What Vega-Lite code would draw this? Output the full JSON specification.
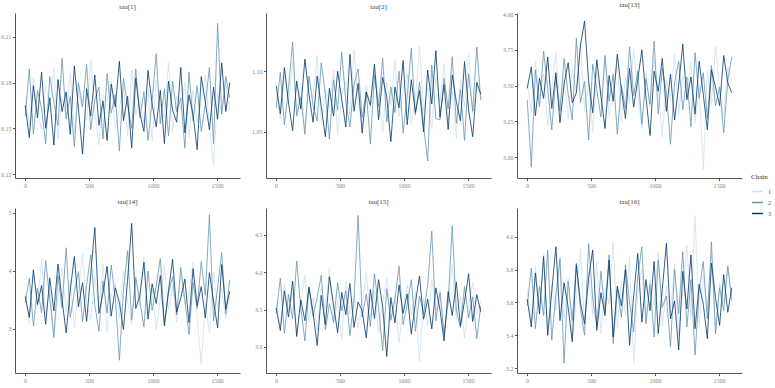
{"$schema":"https://vega.github.io/schema/vega-lite/v6.json","background":"white","padding":{"left":0,"top":1,"right":5,"bottom":0},"bounds":"flush","columns":3,"spacing":{"row":30,"column":26},
"config":{"font":"Liberation Serif","view":{"stroke":null},"axis":{"grid":false,"domainColor":"#555","domainWidth":1,"tickColor":"#555","tickSize":2.5,"labelColor":"#888","labelFontSize":6,"labelPadding":1.5,"title":null},"title":{"fontSize":7,"fontWeight":"normal","color":"#444","offset":3},"legend":{"titleFontSize":7,"titleFontWeight":"normal","titleColor":"#333","labelFontSize":6,"labelColor":"#555","symbolType":"stroke","symbolStrokeWidth":1.5,"symbolSize":120,"rowPadding":1}},
"datasets":{"d":[
{"p":1,"c":1,"i":1,"v":0.171},{"p":1,"c":1,"i":33,"v":0.152},{"p":1,"c":1,"i":65,"v":0.183},{"p":1,"c":1,"i":97,"v":0.160},{"p":1,"c":1,"i":129,"v":0.149},{"p":1,"c":1,"i":161,"v":0.178},{"p":1,"c":1,"i":193,"v":0.165},{"p":1,"c":1,"i":225,"v":0.190},{"p":1,"c":1,"i":257,"v":0.143},{"p":1,"c":1,"i":289,"v":0.170},{"p":1,"c":1,"i":321,"v":0.158},{"p":1,"c":1,"i":353,"v":0.186},{"p":1,"c":1,"i":385,"v":0.147},{"p":1,"c":1,"i":417,"v":0.174},{"p":1,"c":1,"i":449,"v":0.162},{"p":1,"c":1,"i":481,"v":0.155},{"p":1,"c":1,"i":513,"v":0.195},{"p":1,"c":1,"i":545,"v":0.161},{"p":1,"c":1,"i":577,"v":0.139},{"p":1,"c":1,"i":609,"v":0.172},{"p":1,"c":1,"i":641,"v":0.168},{"p":1,"c":1,"i":673,"v":0.181},{"p":1,"c":1,"i":705,"v":0.150},{"p":1,"c":1,"i":737,"v":0.164},{"p":1,"c":1,"i":769,"v":0.177},{"p":1,"c":1,"i":801,"v":0.145},{"p":1,"c":1,"i":833,"v":0.188},{"p":1,"c":1,"i":865,"v":0.159},{"p":1,"c":1,"i":897,"v":0.169},{"p":1,"c":1,"i":929,"v":0.153},{"p":1,"c":1,"i":961,"v":0.176},{"p":1,"c":1,"i":993,"v":0.141},{"p":1,"c":1,"i":1025,"v":0.182},{"p":1,"c":1,"i":1057,"v":0.166},{"p":1,"c":1,"i":1089,"v":0.157},{"p":1,"c":1,"i":1121,"v":0.193},{"p":1,"c":1,"i":1153,"v":0.148},{"p":1,"c":1,"i":1185,"v":0.171},{"p":1,"c":1,"i":1217,"v":0.163},{"p":1,"c":1,"i":1249,"v":0.180},{"p":1,"c":1,"i":1281,"v":0.144},{"p":1,"c":1,"i":1313,"v":0.175},{"p":1,"c":1,"i":1345,"v":0.154},{"p":1,"c":1,"i":1377,"v":0.167},{"p":1,"c":1,"i":1409,"v":0.185},{"p":1,"c":1,"i":1441,"v":0.151},{"p":1,"c":1,"i":1473,"v":0.126},{"p":1,"c":1,"i":1505,"v":0.173},{"p":1,"c":1,"i":1537,"v":0.160},{"p":1,"c":1,"i":1569,"v":0.179},{"p":1,"c":1,"i":1600,"v":0.162},
{"p":1,"c":2,"i":1,"v":0.158},{"p":1,"c":2,"i":33,"v":0.189},{"p":1,"c":2,"i":65,"v":0.146},{"p":1,"c":2,"i":97,"v":0.175},{"p":1,"c":2,"i":129,"v":0.163},{"p":1,"c":2,"i":161,"v":0.140},{"p":1,"c":2,"i":193,"v":0.184},{"p":1,"c":2,"i":225,"v":0.167},{"p":1,"c":2,"i":257,"v":0.152},{"p":1,"c":2,"i":289,"v":0.196},{"p":1,"c":2,"i":321,"v":0.156},{"p":1,"c":2,"i":353,"v":0.171},{"p":1,"c":2,"i":385,"v":0.138},{"p":1,"c":2,"i":417,"v":0.180},{"p":1,"c":2,"i":449,"v":0.164},{"p":1,"c":2,"i":481,"v":0.192},{"p":1,"c":2,"i":513,"v":0.149},{"p":1,"c":2,"i":545,"v":0.169},{"p":1,"c":2,"i":577,"v":0.177},{"p":1,"c":2,"i":609,"v":0.143},{"p":1,"c":2,"i":641,"v":0.186},{"p":1,"c":2,"i":673,"v":0.160},{"p":1,"c":2,"i":705,"v":0.172},{"p":1,"c":2,"i":737,"v":0.135},{"p":1,"c":2,"i":769,"v":0.183},{"p":1,"c":2,"i":801,"v":0.165},{"p":1,"c":2,"i":833,"v":0.150},{"p":1,"c":2,"i":865,"v":0.189},{"p":1,"c":2,"i":897,"v":0.157},{"p":1,"c":2,"i":929,"v":0.174},{"p":1,"c":2,"i":961,"v":0.142},{"p":1,"c":2,"i":993,"v":0.168},{"p":1,"c":2,"i":1025,"v":0.199},{"p":1,"c":2,"i":1057,"v":0.153},{"p":1,"c":2,"i":1089,"v":0.176},{"p":1,"c":2,"i":1121,"v":0.145},{"p":1,"c":2,"i":1153,"v":0.181},{"p":1,"c":2,"i":1185,"v":0.161},{"p":1,"c":2,"i":1217,"v":0.170},{"p":1,"c":2,"i":1249,"v":0.137},{"p":1,"c":2,"i":1281,"v":0.187},{"p":1,"c":2,"i":1313,"v":0.155},{"p":1,"c":2,"i":1345,"v":0.178},{"p":1,"c":2,"i":1377,"v":0.148},{"p":1,"c":2,"i":1409,"v":0.166},{"p":1,"c":2,"i":1441,"v":0.190},{"p":1,"c":2,"i":1473,"v":0.140},{"p":1,"c":2,"i":1505,"v":0.219},{"p":1,"c":2,"i":1537,"v":0.159},{"p":1,"c":2,"i":1569,"v":0.184},{"p":1,"c":2,"i":1600,"v":0.170},
{"p":1,"c":3,"i":1,"v":0.165},{"p":1,"c":3,"i":33,"v":0.144},{"p":1,"c":3,"i":65,"v":0.178},{"p":1,"c":3,"i":97,"v":0.157},{"p":1,"c":3,"i":129,"v":0.187},{"p":1,"c":3,"i":161,"v":0.150},{"p":1,"c":3,"i":193,"v":0.170},{"p":1,"c":3,"i":225,"v":0.139},{"p":1,"c":3,"i":257,"v":0.182},{"p":1,"c":3,"i":289,"v":0.161},{"p":1,"c":3,"i":321,"v":0.174},{"p":1,"c":3,"i":353,"v":0.146},{"p":1,"c":3,"i":385,"v":0.191},{"p":1,"c":3,"i":417,"v":0.163},{"p":1,"c":3,"i":449,"v":0.133},{"p":1,"c":3,"i":481,"v":0.176},{"p":1,"c":3,"i":513,"v":0.158},{"p":1,"c":3,"i":545,"v":0.185},{"p":1,"c":3,"i":577,"v":0.152},{"p":1,"c":3,"i":609,"v":0.168},{"p":1,"c":3,"i":641,"v":0.142},{"p":1,"c":3,"i":673,"v":0.179},{"p":1,"c":3,"i":705,"v":0.164},{"p":1,"c":3,"i":737,"v":0.194},{"p":1,"c":3,"i":769,"v":0.155},{"p":1,"c":3,"i":801,"v":0.171},{"p":1,"c":3,"i":833,"v":0.137},{"p":1,"c":3,"i":865,"v":0.183},{"p":1,"c":3,"i":897,"v":0.160},{"p":1,"c":3,"i":929,"v":0.148},{"p":1,"c":3,"i":961,"v":0.188},{"p":1,"c":3,"i":993,"v":0.166},{"p":1,"c":3,"i":1025,"v":0.151},{"p":1,"c":3,"i":1057,"v":0.175},{"p":1,"c":3,"i":1089,"v":0.140},{"p":1,"c":3,"i":1121,"v":0.181},{"p":1,"c":3,"i":1153,"v":0.162},{"p":1,"c":3,"i":1185,"v":0.154},{"p":1,"c":3,"i":1217,"v":0.190},{"p":1,"c":3,"i":1249,"v":0.147},{"p":1,"c":3,"i":1281,"v":0.172},{"p":1,"c":3,"i":1313,"v":0.159},{"p":1,"c":3,"i":1345,"v":0.136},{"p":1,"c":3,"i":1377,"v":0.184},{"p":1,"c":3,"i":1409,"v":0.167},{"p":1,"c":3,"i":1441,"v":0.149},{"p":1,"c":3,"i":1473,"v":0.177},{"p":1,"c":3,"i":1505,"v":0.156},{"p":1,"c":3,"i":1537,"v":0.193},{"p":1,"c":3,"i":1569,"v":0.161},{"p":1,"c":3,"i":1600,"v":0.180},
{"p":2,"c":1,"i":1,"v":1.082},{"p":2,"c":1,"i":33,"v":1.061},{"p":2,"c":1,"i":65,"v":1.097},{"p":2,"c":1,"i":97,"v":1.073},{"p":2,"c":1,"i":129,"v":1.108},{"p":2,"c":1,"i":161,"v":1.066},{"p":2,"c":1,"i":193,"v":1.089},{"p":2,"c":1,"i":225,"v":1.052},{"p":2,"c":1,"i":257,"v":1.094},{"p":2,"c":1,"i":289,"v":1.077},{"p":2,"c":1,"i":321,"v":1.113},{"p":2,"c":1,"i":353,"v":1.058},{"p":2,"c":1,"i":385,"v":1.085},{"p":2,"c":1,"i":417,"v":1.070},{"p":2,"c":1,"i":449,"v":1.101},{"p":2,"c":1,"i":481,"v":1.047},{"p":2,"c":1,"i":513,"v":1.080},{"p":2,"c":1,"i":545,"v":1.092},{"p":2,"c":1,"i":577,"v":1.064},{"p":2,"c":1,"i":609,"v":1.118},{"p":2,"c":1,"i":641,"v":1.075},{"p":2,"c":1,"i":673,"v":1.055},{"p":2,"c":1,"i":705,"v":1.088},{"p":2,"c":1,"i":737,"v":1.069},{"p":2,"c":1,"i":769,"v":1.104},{"p":2,"c":1,"i":801,"v":1.079},{"p":2,"c":1,"i":833,"v":1.050},{"p":2,"c":1,"i":865,"v":1.091},{"p":2,"c":1,"i":897,"v":1.072},{"p":2,"c":1,"i":929,"v":1.110},{"p":2,"c":1,"i":961,"v":1.063},{"p":2,"c":1,"i":993,"v":1.084},{"p":2,"c":1,"i":1025,"v":1.098},{"p":2,"c":1,"i":1057,"v":1.057},{"p":2,"c":1,"i":1089,"v":1.076},{"p":2,"c":1,"i":1121,"v":1.121},{"p":2,"c":1,"i":1153,"v":1.067},{"p":2,"c":1,"i":1185,"v":1.087},{"p":2,"c":1,"i":1217,"v":1.053},{"p":2,"c":1,"i":1249,"v":1.095},{"p":2,"c":1,"i":1281,"v":1.074},{"p":2,"c":1,"i":1313,"v":1.106},{"p":2,"c":1,"i":1345,"v":1.060},{"p":2,"c":1,"i":1377,"v":1.083},{"p":2,"c":1,"i":1409,"v":1.045},{"p":2,"c":1,"i":1441,"v":1.093},{"p":2,"c":1,"i":1473,"v":1.071},{"p":2,"c":1,"i":1505,"v":1.115},{"p":2,"c":1,"i":1537,"v":1.065},{"p":2,"c":1,"i":1569,"v":1.090},{"p":2,"c":1,"i":1600,"v":1.078},
{"p":2,"c":2,"i":1,"v":1.070},{"p":2,"c":2,"i":33,"v":1.099},{"p":2,"c":2,"i":65,"v":1.056},{"p":2,"c":2,"i":97,"v":1.086},{"p":2,"c":2,"i":129,"v":1.124},{"p":2,"c":2,"i":161,"v":1.063},{"p":2,"c":2,"i":193,"v":1.079},{"p":2,"c":2,"i":225,"v":1.048},{"p":2,"c":2,"i":257,"v":1.096},{"p":2,"c":2,"i":289,"v":1.072},{"p":2,"c":2,"i":321,"v":1.059},{"p":2,"c":2,"i":353,"v":1.107},{"p":2,"c":2,"i":385,"v":1.081},{"p":2,"c":2,"i":417,"v":1.044},{"p":2,"c":2,"i":449,"v":1.093},{"p":2,"c":2,"i":481,"v":1.068},{"p":2,"c":2,"i":513,"v":1.116},{"p":2,"c":2,"i":545,"v":1.075},{"p":2,"c":2,"i":577,"v":1.054},{"p":2,"c":2,"i":609,"v":1.089},{"p":2,"c":2,"i":641,"v":1.102},{"p":2,"c":2,"i":673,"v":1.062},{"p":2,"c":2,"i":705,"v":1.083},{"p":2,"c":2,"i":737,"v":1.040},{"p":2,"c":2,"i":769,"v":1.097},{"p":2,"c":2,"i":801,"v":1.071},{"p":2,"c":2,"i":833,"v":1.111},{"p":2,"c":2,"i":865,"v":1.058},{"p":2,"c":2,"i":897,"v":1.087},{"p":2,"c":2,"i":929,"v":1.066},{"p":2,"c":2,"i":961,"v":1.100},{"p":2,"c":2,"i":993,"v":1.049},{"p":2,"c":2,"i":1025,"v":1.080},{"p":2,"c":2,"i":1057,"v":1.119},{"p":2,"c":2,"i":1089,"v":1.064},{"p":2,"c":2,"i":1121,"v":1.091},{"p":2,"c":2,"i":1153,"v":1.055},{"p":2,"c":2,"i":1185,"v":1.026},{"p":2,"c":2,"i":1217,"v":1.105},{"p":2,"c":2,"i":1249,"v":1.061},{"p":2,"c":2,"i":1281,"v":1.060},{"p":2,"c":2,"i":1313,"v":1.094},{"p":2,"c":2,"i":1345,"v":1.069},{"p":2,"c":2,"i":1377,"v":1.112},{"p":2,"c":2,"i":1409,"v":1.057},{"p":2,"c":2,"i":1441,"v":1.085},{"p":2,"c":2,"i":1473,"v":1.043},{"p":2,"c":2,"i":1505,"v":1.098},{"p":2,"c":2,"i":1537,"v":1.067},{"p":2,"c":2,"i":1569,"v":1.120},{"p":2,"c":2,"i":1600,"v":1.076},
{"p":2,"c":3,"i":1,"v":1.088},{"p":2,"c":3,"i":33,"v":1.065},{"p":2,"c":3,"i":65,"v":1.103},{"p":2,"c":3,"i":97,"v":1.074},{"p":2,"c":3,"i":129,"v":1.051},{"p":2,"c":3,"i":161,"v":1.092},{"p":2,"c":3,"i":193,"v":1.069},{"p":2,"c":3,"i":225,"v":1.110},{"p":2,"c":3,"i":257,"v":1.081},{"p":2,"c":3,"i":289,"v":1.058},{"p":2,"c":3,"i":321,"v":1.096},{"p":2,"c":3,"i":353,"v":1.071},{"p":2,"c":3,"i":385,"v":1.046},{"p":2,"c":3,"i":417,"v":1.086},{"p":2,"c":3,"i":449,"v":1.063},{"p":2,"c":3,"i":481,"v":1.100},{"p":2,"c":3,"i":513,"v":1.077},{"p":2,"c":3,"i":545,"v":1.054},{"p":2,"c":3,"i":577,"v":1.114},{"p":2,"c":3,"i":609,"v":1.067},{"p":2,"c":3,"i":641,"v":1.090},{"p":2,"c":3,"i":673,"v":1.049},{"p":2,"c":3,"i":705,"v":1.083},{"p":2,"c":3,"i":737,"v":1.072},{"p":2,"c":3,"i":769,"v":1.106},{"p":2,"c":3,"i":801,"v":1.060},{"p":2,"c":3,"i":833,"v":1.095},{"p":2,"c":3,"i":865,"v":1.079},{"p":2,"c":3,"i":897,"v":1.042},{"p":2,"c":3,"i":929,"v":1.087},{"p":2,"c":3,"i":961,"v":1.070},{"p":2,"c":3,"i":993,"v":1.109},{"p":2,"c":3,"i":1025,"v":1.056},{"p":2,"c":3,"i":1057,"v":1.093},{"p":2,"c":3,"i":1089,"v":1.066},{"p":2,"c":3,"i":1121,"v":1.084},{"p":2,"c":3,"i":1153,"v":1.050},{"p":2,"c":3,"i":1185,"v":1.101},{"p":2,"c":3,"i":1217,"v":1.073},{"p":2,"c":3,"i":1249,"v":1.117},{"p":2,"c":3,"i":1281,"v":1.062},{"p":2,"c":3,"i":1313,"v":1.089},{"p":2,"c":3,"i":1345,"v":1.052},{"p":2,"c":3,"i":1377,"v":1.097},{"p":2,"c":3,"i":1409,"v":1.075},{"p":2,"c":3,"i":1441,"v":1.059},{"p":2,"c":3,"i":1473,"v":1.108},{"p":2,"c":3,"i":1505,"v":1.068},{"p":2,"c":3,"i":1537,"v":1.046},{"p":2,"c":3,"i":1569,"v":1.091},{"p":2,"c":3,"i":1600,"v":1.081},
{"p":13,"c":1,"i":1,"v":3.52},{"p":13,"c":1,"i":33,"v":3.31},{"p":13,"c":1,"i":65,"v":3.67},{"p":13,"c":1,"i":97,"v":3.40},{"p":13,"c":1,"i":129,"v":3.58},{"p":13,"c":1,"i":161,"v":3.22},{"p":13,"c":1,"i":193,"v":3.49},{"p":13,"c":1,"i":225,"v":3.73},{"p":13,"c":1,"i":257,"v":3.36},{"p":13,"c":1,"i":289,"v":3.55},{"p":13,"c":1,"i":321,"v":3.27},{"p":13,"c":1,"i":353,"v":3.62},{"p":13,"c":1,"i":385,"v":3.44},{"p":13,"c":1,"i":417,"v":3.80},{"p":13,"c":1,"i":449,"v":3.33},{"p":13,"c":1,"i":481,"v":3.51},{"p":13,"c":1,"i":513,"v":3.18},{"p":13,"c":1,"i":545,"v":3.60},{"p":13,"c":1,"i":577,"v":3.42},{"p":13,"c":1,"i":609,"v":3.70},{"p":13,"c":1,"i":641,"v":3.29},{"p":13,"c":1,"i":673,"v":3.47},{"p":13,"c":1,"i":705,"v":3.64},{"p":13,"c":1,"i":737,"v":3.25},{"p":13,"c":1,"i":769,"v":3.56},{"p":13,"c":1,"i":801,"v":3.38},{"p":13,"c":1,"i":833,"v":3.76},{"p":13,"c":1,"i":865,"v":3.45},{"p":13,"c":1,"i":897,"v":3.20},{"p":13,"c":1,"i":929,"v":3.59},{"p":13,"c":1,"i":961,"v":3.35},{"p":13,"c":1,"i":993,"v":3.68},{"p":13,"c":1,"i":1025,"v":3.48},{"p":13,"c":1,"i":1057,"v":3.14},{"p":13,"c":1,"i":1089,"v":3.54},{"p":13,"c":1,"i":1121,"v":3.41},{"p":13,"c":1,"i":1153,"v":3.72},{"p":13,"c":1,"i":1185,"v":3.30},{"p":13,"c":1,"i":1217,"v":3.57},{"p":13,"c":1,"i":1249,"v":3.43},{"p":13,"c":1,"i":1281,"v":3.66},{"p":13,"c":1,"i":1313,"v":3.24},{"p":13,"c":1,"i":1345,"v":3.50},{"p":13,"c":1,"i":1377,"v":2.91},{"p":13,"c":1,"i":1409,"v":3.61},{"p":13,"c":1,"i":1441,"v":3.37},{"p":13,"c":1,"i":1473,"v":3.78},{"p":13,"c":1,"i":1505,"v":3.46},{"p":13,"c":1,"i":1537,"v":3.28},{"p":13,"c":1,"i":1569,"v":3.63},{"p":13,"c":1,"i":1600,"v":3.53},
{"p":13,"c":2,"i":1,"v":3.40},{"p":13,"c":2,"i":33,"v":2.93},{"p":13,"c":2,"i":65,"v":3.61},{"p":13,"c":2,"i":97,"v":3.35},{"p":13,"c":2,"i":129,"v":3.74},{"p":13,"c":2,"i":161,"v":3.48},{"p":13,"c":2,"i":193,"v":3.19},{"p":13,"c":2,"i":225,"v":3.57},{"p":13,"c":2,"i":257,"v":3.32},{"p":13,"c":2,"i":289,"v":3.69},{"p":13,"c":2,"i":321,"v":3.44},{"p":13,"c":2,"i":353,"v":3.26},{"p":13,"c":2,"i":385,"v":3.83},{"p":13,"c":2,"i":417,"v":3.38},{"p":13,"c":2,"i":449,"v":3.53},{"p":13,"c":2,"i":481,"v":3.12},{"p":13,"c":2,"i":513,"v":3.65},{"p":13,"c":2,"i":545,"v":3.47},{"p":13,"c":2,"i":577,"v":3.28},{"p":13,"c":2,"i":609,"v":3.71},{"p":13,"c":2,"i":641,"v":3.39},{"p":13,"c":2,"i":673,"v":3.58},{"p":13,"c":2,"i":705,"v":3.16},{"p":13,"c":2,"i":737,"v":3.50},{"p":13,"c":2,"i":769,"v":3.34},{"p":13,"c":2,"i":801,"v":3.77},{"p":13,"c":2,"i":833,"v":3.43},{"p":13,"c":2,"i":865,"v":3.60},{"p":13,"c":2,"i":897,"v":3.23},{"p":13,"c":2,"i":929,"v":3.55},{"p":13,"c":2,"i":961,"v":3.37},{"p":13,"c":2,"i":993,"v":3.81},{"p":13,"c":2,"i":1025,"v":3.30},{"p":13,"c":2,"i":1057,"v":3.62},{"p":13,"c":2,"i":1089,"v":3.45},{"p":13,"c":2,"i":1121,"v":3.09},{"p":13,"c":2,"i":1153,"v":3.52},{"p":13,"c":2,"i":1185,"v":3.67},{"p":13,"c":2,"i":1217,"v":3.33},{"p":13,"c":2,"i":1249,"v":3.56},{"p":13,"c":2,"i":1281,"v":3.21},{"p":13,"c":2,"i":1313,"v":3.73},{"p":13,"c":2,"i":1345,"v":3.41},{"p":13,"c":2,"i":1377,"v":3.59},{"p":13,"c":2,"i":1409,"v":3.27},{"p":13,"c":2,"i":1441,"v":3.64},{"p":13,"c":2,"i":1473,"v":3.36},{"p":13,"c":2,"i":1505,"v":3.49},{"p":13,"c":2,"i":1537,"v":3.17},{"p":13,"c":2,"i":1569,"v":3.54},{"p":13,"c":2,"i":1600,"v":3.70},
{"p":13,"c":3,"i":1,"v":3.48},{"p":13,"c":3,"i":33,"v":3.63},{"p":13,"c":3,"i":65,"v":3.29},{"p":13,"c":3,"i":97,"v":3.55},{"p":13,"c":3,"i":129,"v":3.41},{"p":13,"c":3,"i":161,"v":3.70},{"p":13,"c":3,"i":193,"v":3.34},{"p":13,"c":3,"i":225,"v":3.59},{"p":13,"c":3,"i":257,"v":3.24},{"p":13,"c":3,"i":289,"v":3.51},{"p":13,"c":3,"i":321,"v":3.66},{"p":13,"c":3,"i":353,"v":3.38},{"p":13,"c":3,"i":385,"v":3.45},{"p":13,"c":3,"i":417,"v":3.78},{"p":13,"c":3,"i":449,"v":3.95},{"p":13,"c":3,"i":481,"v":3.53},{"p":13,"c":3,"i":513,"v":3.31},{"p":13,"c":3,"i":545,"v":3.68},{"p":13,"c":3,"i":577,"v":3.43},{"p":13,"c":3,"i":609,"v":3.20},{"p":13,"c":3,"i":641,"v":3.57},{"p":13,"c":3,"i":673,"v":3.39},{"p":13,"c":3,"i":705,"v":3.72},{"p":13,"c":3,"i":737,"v":3.47},{"p":13,"c":3,"i":769,"v":3.27},{"p":13,"c":3,"i":801,"v":3.62},{"p":13,"c":3,"i":833,"v":3.35},{"p":13,"c":3,"i":865,"v":3.54},{"p":13,"c":3,"i":897,"v":3.75},{"p":13,"c":3,"i":929,"v":3.42},{"p":13,"c":3,"i":961,"v":3.15},{"p":13,"c":3,"i":993,"v":3.60},{"p":13,"c":3,"i":1025,"v":3.46},{"p":13,"c":3,"i":1057,"v":3.69},{"p":13,"c":3,"i":1089,"v":3.32},{"p":13,"c":3,"i":1121,"v":3.58},{"p":13,"c":3,"i":1153,"v":3.26},{"p":13,"c":3,"i":1185,"v":3.50},{"p":13,"c":3,"i":1217,"v":3.79},{"p":13,"c":3,"i":1249,"v":3.40},{"p":13,"c":3,"i":1281,"v":3.56},{"p":13,"c":3,"i":1313,"v":3.30},{"p":13,"c":3,"i":1345,"v":3.67},{"p":13,"c":3,"i":1377,"v":3.44},{"p":13,"c":3,"i":1409,"v":3.19},{"p":13,"c":3,"i":1441,"v":3.61},{"p":13,"c":3,"i":1473,"v":3.49},{"p":13,"c":3,"i":1505,"v":3.36},{"p":13,"c":3,"i":1537,"v":3.71},{"p":13,"c":3,"i":1569,"v":3.52},{"p":13,"c":3,"i":1600,"v":3.45},
{"p":14,"c":1,"i":1,"v":3.62},{"p":14,"c":1,"i":33,"v":3.10},{"p":14,"c":1,"i":65,"v":3.95},{"p":14,"c":1,"i":97,"v":3.38},{"p":14,"c":1,"i":129,"v":4.21},{"p":14,"c":1,"i":161,"v":3.25},{"p":14,"c":1,"i":193,"v":3.71},{"p":14,"c":1,"i":225,"v":2.88},{"p":14,"c":1,"i":257,"v":3.55},{"p":14,"c":1,"i":289,"v":4.05},{"p":14,"c":1,"i":321,"v":3.30},{"p":14,"c":1,"i":353,"v":3.84},{"p":14,"c":1,"i":385,"v":3.02},{"p":14,"c":1,"i":417,"v":3.66},{"p":14,"c":1,"i":449,"v":4.30},{"p":14,"c":1,"i":481,"v":3.44},{"p":14,"c":1,"i":513,"v":3.15},{"p":14,"c":1,"i":545,"v":3.90},{"p":14,"c":1,"i":577,"v":3.35},{"p":14,"c":1,"i":609,"v":4.12},{"p":14,"c":1,"i":641,"v":2.95},{"p":14,"c":1,"i":673,"v":3.58},{"p":14,"c":1,"i":705,"v":3.78},{"p":14,"c":1,"i":737,"v":3.20},{"p":14,"c":1,"i":769,"v":4.02},{"p":14,"c":1,"i":801,"v":3.48},{"p":14,"c":1,"i":833,"v":3.07},{"p":14,"c":1,"i":865,"v":3.86},{"p":14,"c":1,"i":897,"v":3.40},{"p":14,"c":1,"i":929,"v":4.25},{"p":14,"c":1,"i":961,"v":3.28},{"p":14,"c":1,"i":993,"v":3.69},{"p":14,"c":1,"i":1025,"v":2.98},{"p":14,"c":1,"i":1057,"v":3.52},{"p":14,"c":1,"i":1089,"v":4.08},{"p":14,"c":1,"i":1121,"v":3.33},{"p":14,"c":1,"i":1153,"v":3.75},{"p":14,"c":1,"i":1185,"v":3.12},{"p":14,"c":1,"i":1217,"v":3.93},{"p":14,"c":1,"i":1249,"v":3.42},{"p":14,"c":1,"i":1281,"v":3.60},{"p":14,"c":1,"i":1313,"v":4.15},{"p":14,"c":1,"i":1345,"v":3.23},{"p":14,"c":1,"i":1377,"v":2.40},{"p":14,"c":1,"i":1409,"v":3.45},{"p":14,"c":1,"i":1441,"v":2.92},{"p":14,"c":1,"i":1473,"v":3.98},{"p":14,"c":1,"i":1505,"v":3.36},{"p":14,"c":1,"i":1537,"v":3.70},{"p":14,"c":1,"i":1569,"v":3.18},{"p":14,"c":1,"i":1600,"v":3.57},
{"p":14,"c":2,"i":1,"v":3.45},{"p":14,"c":2,"i":33,"v":3.88},{"p":14,"c":2,"i":65,"v":3.05},{"p":14,"c":2,"i":97,"v":3.70},{"p":14,"c":2,"i":129,"v":3.28},{"p":14,"c":2,"i":161,"v":4.18},{"p":14,"c":2,"i":193,"v":3.52},{"p":14,"c":2,"i":225,"v":2.85},{"p":14,"c":2,"i":257,"v":3.92},{"p":14,"c":2,"i":289,"v":3.37},{"p":14,"c":2,"i":321,"v":4.40},{"p":14,"c":2,"i":353,"v":3.20},{"p":14,"c":2,"i":385,"v":3.64},{"p":14,"c":2,"i":417,"v":3.99},{"p":14,"c":2,"i":449,"v":3.12},{"p":14,"c":2,"i":481,"v":3.76},{"p":14,"c":2,"i":513,"v":4.28},{"p":14,"c":2,"i":545,"v":3.41},{"p":14,"c":2,"i":577,"v":2.96},{"p":14,"c":2,"i":609,"v":3.83},{"p":14,"c":2,"i":641,"v":3.27},{"p":14,"c":2,"i":673,"v":4.10},{"p":14,"c":2,"i":705,"v":3.55},{"p":14,"c":2,"i":737,"v":2.46},{"p":14,"c":2,"i":769,"v":3.68},{"p":14,"c":2,"i":801,"v":4.35},{"p":14,"c":2,"i":833,"v":3.16},{"p":14,"c":2,"i":865,"v":3.89},{"p":14,"c":2,"i":897,"v":3.48},{"p":14,"c":2,"i":929,"v":3.03},{"p":14,"c":2,"i":961,"v":4.00},{"p":14,"c":2,"i":993,"v":3.32},{"p":14,"c":2,"i":1025,"v":3.74},{"p":14,"c":2,"i":1057,"v":4.22},{"p":14,"c":2,"i":1089,"v":3.09},{"p":14,"c":2,"i":1121,"v":3.61},{"p":14,"c":2,"i":1153,"v":3.90},{"p":14,"c":2,"i":1185,"v":3.24},{"p":14,"c":2,"i":1217,"v":4.06},{"p":14,"c":2,"i":1249,"v":3.50},{"p":14,"c":2,"i":1281,"v":2.90},{"p":14,"c":2,"i":1313,"v":3.80},{"p":14,"c":2,"i":1345,"v":3.35},{"p":14,"c":2,"i":1377,"v":4.16},{"p":14,"c":2,"i":1409,"v":3.58},{"p":14,"c":2,"i":1441,"v":4.97},{"p":14,"c":2,"i":1473,"v":3.14},{"p":14,"c":2,"i":1505,"v":3.72},{"p":14,"c":2,"i":1537,"v":4.32},{"p":14,"c":2,"i":1569,"v":3.26},{"p":14,"c":2,"i":1600,"v":3.85},
{"p":14,"c":3,"i":1,"v":3.56},{"p":14,"c":3,"i":33,"v":3.20},{"p":14,"c":3,"i":65,"v":4.02},{"p":14,"c":3,"i":97,"v":3.42},{"p":14,"c":3,"i":129,"v":3.75},{"p":14,"c":3,"i":161,"v":3.08},{"p":14,"c":3,"i":193,"v":3.88},{"p":14,"c":3,"i":225,"v":3.31},{"p":14,"c":3,"i":257,"v":4.12},{"p":14,"c":3,"i":289,"v":3.50},{"p":14,"c":3,"i":321,"v":2.93},{"p":14,"c":3,"i":353,"v":3.67},{"p":14,"c":3,"i":385,"v":4.25},{"p":14,"c":3,"i":417,"v":3.38},{"p":14,"c":3,"i":449,"v":3.80},{"p":14,"c":3,"i":481,"v":3.13},{"p":14,"c":3,"i":513,"v":3.95},{"p":14,"c":3,"i":545,"v":4.75},{"p":14,"c":3,"i":577,"v":3.27},{"p":14,"c":3,"i":609,"v":3.62},{"p":14,"c":3,"i":641,"v":4.08},{"p":14,"c":3,"i":673,"v":3.22},{"p":14,"c":3,"i":705,"v":3.71},{"p":14,"c":3,"i":737,"v":3.46},{"p":14,"c":3,"i":769,"v":2.99},{"p":14,"c":3,"i":801,"v":3.84},{"p":14,"c":3,"i":833,"v":4.82},{"p":14,"c":3,"i":865,"v":3.35},{"p":14,"c":3,"i":897,"v":3.58},{"p":14,"c":3,"i":929,"v":4.15},{"p":14,"c":3,"i":961,"v":3.17},{"p":14,"c":3,"i":993,"v":3.78},{"p":14,"c":3,"i":1025,"v":3.44},{"p":14,"c":3,"i":1057,"v":3.92},{"p":14,"c":3,"i":1089,"v":3.05},{"p":14,"c":3,"i":1121,"v":3.66},{"p":14,"c":3,"i":1153,"v":4.20},{"p":14,"c":3,"i":1185,"v":3.29},{"p":14,"c":3,"i":1217,"v":3.53},{"p":14,"c":3,"i":1249,"v":3.86},{"p":14,"c":3,"i":1281,"v":3.11},{"p":14,"c":3,"i":1313,"v":4.04},{"p":14,"c":3,"i":1345,"v":3.40},{"p":14,"c":3,"i":1377,"v":3.73},{"p":14,"c":3,"i":1409,"v":3.19},{"p":14,"c":3,"i":1441,"v":3.97},{"p":14,"c":3,"i":1473,"v":3.48},{"p":14,"c":3,"i":1505,"v":3.02},{"p":14,"c":3,"i":1537,"v":4.11},{"p":14,"c":3,"i":1569,"v":3.34},{"p":14,"c":3,"i":1600,"v":3.65},
{"p":15,"c":1,"i":1,"v":3.60},{"p":15,"c":1,"i":33,"v":3.28},{"p":15,"c":1,"i":65,"v":3.85},{"p":15,"c":1,"i":97,"v":3.47},{"p":15,"c":1,"i":129,"v":3.72},{"p":15,"c":1,"i":161,"v":3.15},{"p":15,"c":1,"i":193,"v":3.58},{"p":15,"c":1,"i":225,"v":3.96},{"p":15,"c":1,"i":257,"v":3.36},{"p":15,"c":1,"i":289,"v":3.66},{"p":15,"c":1,"i":321,"v":3.22},{"p":15,"c":1,"i":353,"v":3.79},{"p":15,"c":1,"i":385,"v":3.50},{"p":15,"c":1,"i":417,"v":4.05},{"p":15,"c":1,"i":449,"v":3.31},{"p":15,"c":1,"i":481,"v":3.63},{"p":15,"c":1,"i":513,"v":3.10},{"p":15,"c":1,"i":545,"v":3.88},{"p":15,"c":1,"i":577,"v":3.44},{"p":15,"c":1,"i":609,"v":3.70},{"p":15,"c":1,"i":641,"v":3.25},{"p":15,"c":1,"i":673,"v":3.56},{"p":15,"c":1,"i":705,"v":4.00},{"p":15,"c":1,"i":737,"v":3.39},{"p":15,"c":1,"i":769,"v":3.75},{"p":15,"c":1,"i":801,"v":3.18},{"p":15,"c":1,"i":833,"v":3.61},{"p":15,"c":1,"i":865,"v":3.92},{"p":15,"c":1,"i":897,"v":3.34},{"p":15,"c":1,"i":929,"v":3.68},{"p":15,"c":1,"i":961,"v":3.05},{"p":15,"c":1,"i":993,"v":3.53},{"p":15,"c":1,"i":1025,"v":3.82},{"p":15,"c":1,"i":1057,"v":3.42},{"p":15,"c":1,"i":1089,"v":3.74},{"p":15,"c":1,"i":1121,"v":2.80},{"p":15,"c":1,"i":1153,"v":3.65},{"p":15,"c":1,"i":1185,"v":3.29},{"p":15,"c":1,"i":1217,"v":3.90},{"p":15,"c":1,"i":1249,"v":3.48},{"p":15,"c":1,"i":1281,"v":3.77},{"p":15,"c":1,"i":1313,"v":3.20},{"p":15,"c":1,"i":1345,"v":3.59},{"p":15,"c":1,"i":1377,"v":4.10},{"p":15,"c":1,"i":1409,"v":3.37},{"p":15,"c":1,"i":1441,"v":3.69},{"p":15,"c":1,"i":1473,"v":3.12},{"p":15,"c":1,"i":1505,"v":3.55},{"p":15,"c":1,"i":1537,"v":3.86},{"p":15,"c":1,"i":1569,"v":3.43},{"p":15,"c":1,"i":1600,"v":3.62},
{"p":15,"c":2,"i":1,"v":3.45},{"p":15,"c":2,"i":33,"v":3.92},{"p":15,"c":2,"i":65,"v":3.18},{"p":15,"c":2,"i":97,"v":3.70},{"p":15,"c":2,"i":129,"v":3.38},{"p":15,"c":2,"i":161,"v":4.15},{"p":15,"c":2,"i":193,"v":3.52},{"p":15,"c":2,"i":225,"v":3.08},{"p":15,"c":2,"i":257,"v":3.80},{"p":15,"c":2,"i":289,"v":3.41},{"p":15,"c":2,"i":321,"v":3.66},{"p":15,"c":2,"i":353,"v":3.96},{"p":15,"c":2,"i":385,"v":3.23},{"p":15,"c":2,"i":417,"v":3.58},{"p":15,"c":2,"i":449,"v":3.33},{"p":15,"c":2,"i":481,"v":3.86},{"p":15,"c":2,"i":513,"v":3.48},{"p":15,"c":2,"i":545,"v":3.75},{"p":15,"c":2,"i":577,"v":3.15},{"p":15,"c":2,"i":609,"v":3.62},{"p":15,"c":2,"i":641,"v":4.76},{"p":15,"c":2,"i":673,"v":3.40},{"p":15,"c":2,"i":705,"v":3.71},{"p":15,"c":2,"i":737,"v":3.27},{"p":15,"c":2,"i":769,"v":3.98},{"p":15,"c":2,"i":801,"v":3.53},{"p":15,"c":2,"i":833,"v":2.95},{"p":15,"c":2,"i":865,"v":3.78},{"p":15,"c":2,"i":897,"v":3.36},{"p":15,"c":2,"i":929,"v":3.64},{"p":15,"c":2,"i":961,"v":4.08},{"p":15,"c":2,"i":993,"v":3.30},{"p":15,"c":2,"i":1025,"v":3.57},{"p":15,"c":2,"i":1057,"v":3.90},{"p":15,"c":2,"i":1089,"v":3.21},{"p":15,"c":2,"i":1121,"v":3.68},{"p":15,"c":2,"i":1153,"v":3.44},{"p":15,"c":2,"i":1185,"v":3.83},{"p":15,"c":2,"i":1217,"v":4.55},{"p":15,"c":2,"i":1249,"v":3.35},{"p":15,"c":2,"i":1281,"v":3.73},{"p":15,"c":2,"i":1313,"v":3.16},{"p":15,"c":2,"i":1345,"v":3.60},{"p":15,"c":2,"i":1377,"v":4.62},{"p":15,"c":2,"i":1409,"v":3.49},{"p":15,"c":2,"i":1441,"v":3.26},{"p":15,"c":2,"i":1473,"v":3.81},{"p":15,"c":2,"i":1505,"v":3.39},{"p":15,"c":2,"i":1537,"v":3.67},{"p":15,"c":2,"i":1569,"v":3.11},{"p":15,"c":2,"i":1600,"v":3.55},
{"p":15,"c":3,"i":1,"v":3.52},{"p":15,"c":3,"i":33,"v":3.22},{"p":15,"c":3,"i":65,"v":3.75},{"p":15,"c":3,"i":97,"v":3.40},{"p":15,"c":3,"i":129,"v":3.88},{"p":15,"c":3,"i":161,"v":3.14},{"p":15,"c":3,"i":193,"v":3.63},{"p":15,"c":3,"i":225,"v":3.35},{"p":15,"c":3,"i":257,"v":3.80},{"p":15,"c":3,"i":289,"v":3.46},{"p":15,"c":3,"i":321,"v":3.02},{"p":15,"c":3,"i":353,"v":3.69},{"p":15,"c":3,"i":385,"v":3.30},{"p":15,"c":3,"i":417,"v":3.94},{"p":15,"c":3,"i":449,"v":3.56},{"p":15,"c":3,"i":481,"v":3.19},{"p":15,"c":3,"i":513,"v":3.73},{"p":15,"c":3,"i":545,"v":3.43},{"p":15,"c":3,"i":577,"v":3.85},{"p":15,"c":3,"i":609,"v":3.26},{"p":15,"c":3,"i":641,"v":3.60},{"p":15,"c":3,"i":673,"v":3.48},{"p":15,"c":3,"i":705,"v":3.12},{"p":15,"c":3,"i":737,"v":3.77},{"p":15,"c":3,"i":769,"v":3.38},{"p":15,"c":3,"i":801,"v":3.90},{"p":15,"c":3,"i":833,"v":3.54},{"p":15,"c":3,"i":865,"v":2.87},{"p":15,"c":3,"i":897,"v":3.66},{"p":15,"c":3,"i":929,"v":3.32},{"p":15,"c":3,"i":961,"v":3.83},{"p":15,"c":3,"i":993,"v":3.45},{"p":15,"c":3,"i":1025,"v":3.71},{"p":15,"c":3,"i":1057,"v":3.17},{"p":15,"c":3,"i":1089,"v":3.59},{"p":15,"c":3,"i":1121,"v":3.95},{"p":15,"c":3,"i":1153,"v":3.37},{"p":15,"c":3,"i":1185,"v":3.64},{"p":15,"c":3,"i":1217,"v":3.24},{"p":15,"c":3,"i":1249,"v":3.79},{"p":15,"c":3,"i":1281,"v":3.50},{"p":15,"c":3,"i":1313,"v":3.08},{"p":15,"c":3,"i":1345,"v":3.74},{"p":15,"c":3,"i":1377,"v":3.42},{"p":15,"c":3,"i":1409,"v":3.87},{"p":15,"c":3,"i":1441,"v":3.28},{"p":15,"c":3,"i":1473,"v":3.61},{"p":15,"c":3,"i":1505,"v":3.98},{"p":15,"c":3,"i":1537,"v":3.34},{"p":15,"c":3,"i":1569,"v":3.70},{"p":15,"c":3,"i":1600,"v":3.47},
{"p":16,"c":1,"i":1,"v":3.68},{"p":16,"c":1,"i":33,"v":3.48},{"p":16,"c":1,"i":65,"v":3.82},{"p":16,"c":1,"i":97,"v":3.57},{"p":16,"c":1,"i":129,"v":3.90},{"p":16,"c":1,"i":161,"v":3.42},{"p":16,"c":1,"i":193,"v":3.71},{"p":16,"c":1,"i":225,"v":3.55},{"p":16,"c":1,"i":257,"v":3.86},{"p":16,"c":1,"i":289,"v":3.50},{"p":16,"c":1,"i":321,"v":3.75},{"p":16,"c":1,"i":353,"v":3.38},{"p":16,"c":1,"i":385,"v":3.63},{"p":16,"c":1,"i":417,"v":3.93},{"p":16,"c":1,"i":449,"v":3.46},{"p":16,"c":1,"i":481,"v":3.78},{"p":16,"c":1,"i":513,"v":3.53},{"p":16,"c":1,"i":545,"v":3.85},{"p":16,"c":1,"i":577,"v":3.41},{"p":16,"c":1,"i":609,"v":3.69},{"p":16,"c":1,"i":641,"v":3.59},{"p":16,"c":1,"i":673,"v":3.97},{"p":16,"c":1,"i":705,"v":3.44},{"p":16,"c":1,"i":737,"v":3.73},{"p":16,"c":1,"i":769,"v":3.52},{"p":16,"c":1,"i":801,"v":3.88},{"p":16,"c":1,"i":833,"v":3.23},{"p":16,"c":1,"i":865,"v":3.66},{"p":16,"c":1,"i":897,"v":3.80},{"p":16,"c":1,"i":929,"v":3.49},{"p":16,"c":1,"i":961,"v":3.74},{"p":16,"c":1,"i":993,"v":3.58},{"p":16,"c":1,"i":1025,"v":3.91},{"p":16,"c":1,"i":1057,"v":3.45},{"p":16,"c":1,"i":1089,"v":3.70},{"p":16,"c":1,"i":1121,"v":3.54},{"p":16,"c":1,"i":1153,"v":3.84},{"p":16,"c":1,"i":1185,"v":3.40},{"p":16,"c":1,"i":1217,"v":3.67},{"p":16,"c":1,"i":1249,"v":3.95},{"p":16,"c":1,"i":1281,"v":3.51},{"p":16,"c":1,"i":1313,"v":4.13},{"p":16,"c":1,"i":1345,"v":3.47},{"p":16,"c":1,"i":1377,"v":3.77},{"p":16,"c":1,"i":1409,"v":3.56},{"p":16,"c":1,"i":1441,"v":3.89},{"p":16,"c":1,"i":1473,"v":3.43},{"p":16,"c":1,"i":1505,"v":3.72},{"p":16,"c":1,"i":1537,"v":3.60},{"p":16,"c":1,"i":1569,"v":3.83},{"p":16,"c":1,"i":1600,"v":3.65},
{"p":16,"c":2,"i":1,"v":3.58},{"p":16,"c":2,"i":33,"v":3.81},{"p":16,"c":2,"i":65,"v":3.44},{"p":16,"c":2,"i":97,"v":3.70},{"p":16,"c":2,"i":129,"v":3.52},{"p":16,"c":2,"i":161,"v":3.92},{"p":16,"c":2,"i":193,"v":3.37},{"p":16,"c":2,"i":225,"v":3.65},{"p":16,"c":2,"i":257,"v":3.87},{"p":16,"c":2,"i":289,"v":3.23},{"p":16,"c":2,"i":321,"v":3.73},{"p":16,"c":2,"i":353,"v":3.49},{"p":16,"c":2,"i":385,"v":3.84},{"p":16,"c":2,"i":417,"v":3.56},{"p":16,"c":2,"i":449,"v":3.40},{"p":16,"c":2,"i":481,"v":3.96},{"p":16,"c":2,"i":513,"v":3.62},{"p":16,"c":2,"i":545,"v":3.46},{"p":16,"c":2,"i":577,"v":3.79},{"p":16,"c":2,"i":609,"v":3.54},{"p":16,"c":2,"i":641,"v":3.89},{"p":16,"c":2,"i":673,"v":3.35},{"p":16,"c":2,"i":705,"v":3.68},{"p":16,"c":2,"i":737,"v":3.51},{"p":16,"c":2,"i":769,"v":3.83},{"p":16,"c":2,"i":801,"v":3.60},{"p":16,"c":2,"i":833,"v":3.42},{"p":16,"c":2,"i":865,"v":3.76},{"p":16,"c":2,"i":897,"v":3.94},{"p":16,"c":2,"i":929,"v":3.47},{"p":16,"c":2,"i":961,"v":3.71},{"p":16,"c":2,"i":993,"v":3.39},{"p":16,"c":2,"i":1025,"v":3.86},{"p":16,"c":2,"i":1057,"v":3.57},{"p":16,"c":2,"i":1089,"v":3.64},{"p":16,"c":2,"i":1121,"v":3.33},{"p":16,"c":2,"i":1153,"v":3.80},{"p":16,"c":2,"i":1185,"v":3.53},{"p":16,"c":2,"i":1217,"v":3.91},{"p":16,"c":2,"i":1249,"v":3.45},{"p":16,"c":2,"i":1281,"v":3.74},{"p":16,"c":2,"i":1313,"v":3.28},{"p":16,"c":2,"i":1345,"v":3.67},{"p":16,"c":2,"i":1377,"v":3.85},{"p":16,"c":2,"i":1409,"v":3.50},{"p":16,"c":2,"i":1441,"v":3.97},{"p":16,"c":2,"i":1473,"v":3.41},{"p":16,"c":2,"i":1505,"v":3.69},{"p":16,"c":2,"i":1537,"v":3.55},{"p":16,"c":2,"i":1569,"v":3.82},{"p":16,"c":2,"i":1600,"v":3.61},
{"p":16,"c":3,"i":1,"v":3.62},{"p":16,"c":3,"i":33,"v":3.45},{"p":16,"c":3,"i":65,"v":3.78},{"p":16,"c":3,"i":97,"v":3.53},{"p":16,"c":3,"i":129,"v":3.88},{"p":16,"c":3,"i":161,"v":3.40},{"p":16,"c":3,"i":193,"v":3.67},{"p":16,"c":3,"i":225,"v":3.94},{"p":16,"c":3,"i":257,"v":3.49},{"p":16,"c":3,"i":289,"v":3.72},{"p":16,"c":3,"i":321,"v":3.57},{"p":16,"c":3,"i":353,"v":3.36},{"p":16,"c":3,"i":385,"v":3.83},{"p":16,"c":3,"i":417,"v":3.60},{"p":16,"c":3,"i":449,"v":3.47},{"p":16,"c":3,"i":481,"v":3.75},{"p":16,"c":3,"i":513,"v":3.92},{"p":16,"c":3,"i":545,"v":3.43},{"p":16,"c":3,"i":577,"v":3.66},{"p":16,"c":3,"i":609,"v":3.52},{"p":16,"c":3,"i":641,"v":3.86},{"p":16,"c":3,"i":673,"v":3.39},{"p":16,"c":3,"i":705,"v":3.70},{"p":16,"c":3,"i":737,"v":3.58},{"p":16,"c":3,"i":769,"v":3.80},{"p":16,"c":3,"i":801,"v":3.34},{"p":16,"c":3,"i":833,"v":3.64},{"p":16,"c":3,"i":865,"v":3.90},{"p":16,"c":3,"i":897,"v":3.48},{"p":16,"c":3,"i":929,"v":3.74},{"p":16,"c":3,"i":961,"v":3.55},{"p":16,"c":3,"i":993,"v":3.85},{"p":16,"c":3,"i":1025,"v":3.41},{"p":16,"c":3,"i":1057,"v":3.68},{"p":16,"c":3,"i":1089,"v":3.96},{"p":16,"c":3,"i":1121,"v":3.50},{"p":16,"c":3,"i":1153,"v":3.61},{"p":16,"c":3,"i":1185,"v":3.31},{"p":16,"c":3,"i":1217,"v":3.79},{"p":16,"c":3,"i":1249,"v":3.56},{"p":16,"c":3,"i":1281,"v":3.89},{"p":16,"c":3,"i":1313,"v":3.44},{"p":16,"c":3,"i":1345,"v":3.71},{"p":16,"c":3,"i":1377,"v":3.59},{"p":16,"c":3,"i":1409,"v":3.38},{"p":16,"c":3,"i":1441,"v":3.84},{"p":16,"c":3,"i":1473,"v":3.63},{"p":16,"c":3,"i":1505,"v":3.46},{"p":16,"c":3,"i":1537,"v":3.77},{"p":16,"c":3,"i":1569,"v":3.54},{"p":16,"c":3,"i":1600,"v":3.69}
]},
"data":{"name":"d"},
"concat":[
{"title":"tau[1]","width":225,"height":165,"transform":[{"filter":"datum.p==1"}],"mark":{"type":"line","strokeWidth":0.8},"encoding":{"x":{"field":"i","type":"quantitative","scale":{"domain":[-79,1680],"nice":false},"axis":{"values":[0,500,1000,1500],"format":"d"}},"y":{"field":"v","type":"quantitative","scale":{"domain":[0.1174,0.2257],"nice":false,"zero":false},"axis":{"values":[0.12,0.15,0.18,0.21],"format":".2f"}},"color":{"field":"c","type":"nominal","title":"Chain","scale":{"domain":[1,2,3],"range":["#d1e1ec","#6497b1","#03396c"]},"legend":{"orient":"none","legendX":736,"legendY":160}}}},
{"title":"tau[2]","width":225,"height":165,"transform":[{"filter":"datum.p==2"}],"mark":{"type":"line","strokeWidth":0.8},"encoding":{"x":{"field":"i","type":"quantitative","scale":{"domain":[-79,1680],"nice":false},"axis":{"values":[0,500,1000,1500],"format":"d"}},"y":{"field":"v","type":"quantitative","scale":{"domain":[1.012,1.148],"nice":false,"zero":false},"axis":{"values":[1.05,1.10],"format":".2f"}},"color":{"field":"c","type":"nominal","title":"Chain","scale":{"domain":[1,2,3],"range":["#d1e1ec","#6497b1","#03396c"]}}}},
{"title":"tau[13]","width":225,"height":165,"transform":[{"filter":"datum.p==13"}],"mark":{"type":"line","strokeWidth":0.8},"encoding":{"x":{"field":"i","type":"quantitative","scale":{"domain":[-79,1680],"nice":false},"axis":{"values":[0,500,1000,1500],"format":"d"}},"y":{"field":"v","type":"quantitative","scale":{"domain":[2.854,4.007],"nice":false,"zero":false},"axis":{"values":[3,3.25,3.5,3.75,4],"format":".2f"}},"color":{"field":"c","type":"nominal","title":"Chain","scale":{"domain":[1,2,3],"range":["#d1e1ec","#6497b1","#03396c"]}}}},
{"title":"tau[14]","width":225,"height":165,"transform":[{"filter":"datum.p==14"}],"mark":{"type":"line","strokeWidth":0.8},"encoding":{"x":{"field":"i","type":"quantitative","scale":{"domain":[-79,1680],"nice":false},"axis":{"values":[0,500,1000,1500],"format":"d"}},"y":{"field":"v","type":"quantitative","scale":{"domain":[2.24,5.086],"nice":false,"zero":false},"axis":{"values":[3,4,5],"format":"d"}},"color":{"field":"c","type":"nominal","title":"Chain","scale":{"domain":[1,2,3],"range":["#d1e1ec","#6497b1","#03396c"]}}}},
{"title":"tau[15]","width":225,"height":165,"transform":[{"filter":"datum.p==15"}],"mark":{"type":"line","strokeWidth":0.8},"encoding":{"x":{"field":"i","type":"quantitative","scale":{"domain":[-79,1680],"nice":false},"axis":{"values":[0,500,1000,1500],"format":"d"}},"y":{"field":"v","type":"quantitative","scale":{"domain":[2.65,4.86],"nice":false,"zero":false},"axis":{"values":[3,3.5,4,4.5],"format":".1f"}},"color":{"field":"c","type":"nominal","title":"Chain","scale":{"domain":[1,2,3],"range":["#d1e1ec","#6497b1","#03396c"]}}}},
{"title":"tau[16]","width":225,"height":165,"transform":[{"filter":"datum.p==16"}],"mark":{"type":"line","strokeWidth":0.8},"encoding":{"x":{"field":"i","type":"quantitative","scale":{"domain":[-79,1680],"nice":false},"axis":{"values":[0,500,1000,1500],"format":"d"}},"y":{"field":"v","type":"quantitative","scale":{"domain":[3.17,4.176],"nice":false,"zero":false},"axis":{"values":[3.2,3.4,3.6,3.8,4.0],"format":".1f"}},"color":{"field":"c","type":"nominal","title":"Chain","scale":{"domain":[1,2,3],"range":["#d1e1ec","#6497b1","#03396c"]}}}}
]}
